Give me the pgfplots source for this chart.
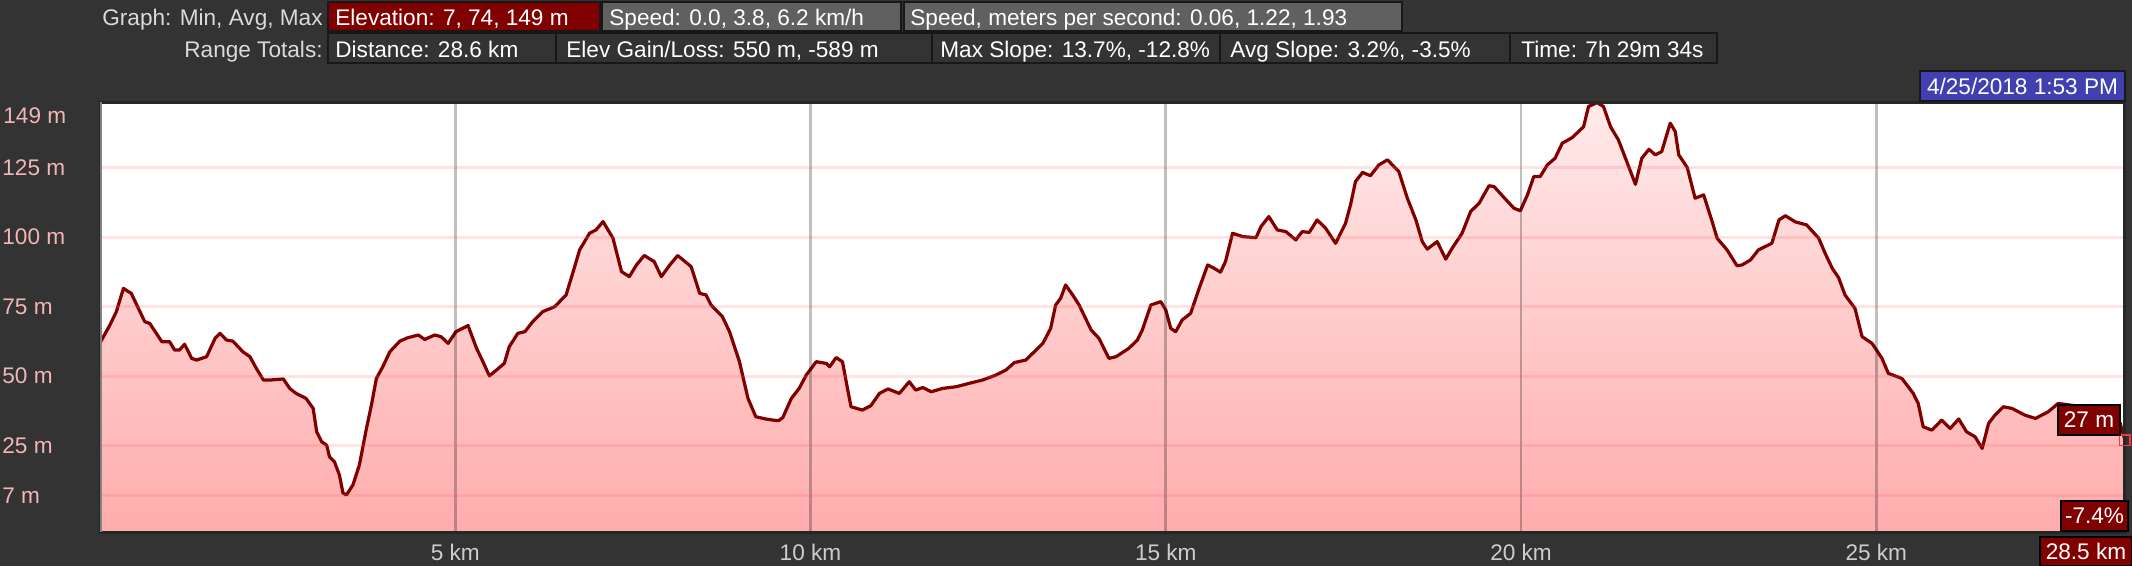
\documentclass[border=0pt]{standalone}
\usepackage{pgfplots}
\pgfplotsset{compat=1.18}
\usepackage{pgfplotstable}
\usepackage{fontspec}
\setmainfont{Liberation Sans}
\definecolor{bg}{RGB}{51,51,51}
\definecolor{darkred}{RGB}{128,0,0}
\definecolor{boxgray}{RGB}{96,96,96}
\definecolor{boxborder}{RGB}{24,24,24}
\definecolor{hdrtext}{RGB}{218,218,218}
\definecolor{ylab}{RGB}{242,182,182}
\definecolor{xlab}{RGB}{205,205,205}
\definecolor{datebox}{RGB}{64,64,176}
\definecolor{filltop}{RGB}{255,234,234}
\definecolor{fillbot}{RGB}{255,172,172}
\definecolor{ygrid}{RGB}{255,96,96}
\definecolor{axisline}{RGB}{38,38,38}
\definecolor{markred}{RGB}{240,60,60}
\newcommand\hf{\fontsize{11.3}{13}\selectfont}

\pgfplotstableread{
x y
0.00 62.0
0.14 68.4
0.23 73.2
0.33 81.6
0.40 80.4
0.44 79.8
0.54 74.4
0.63 69.6
0.70 69.0
0.87 62.4
0.98 62.4
1.05 59.4
1.12 59.4
1.19 61.5
1.29 56.4
1.36 55.8
1.50 57.0
1.62 63.6
1.69 65.4
1.78 63.0
1.87 62.6
2.01 58.8
2.11 57.0
2.20 52.8
2.30 48.6
2.39 48.6
2.58 49.0
2.67 45.6
2.76 43.8
2.90 42.0
3.00 38.4
3.05 30.0
3.12 26.4
3.19 25.2
3.23 21.0
3.30 19.2
3.37 14.4
3.42 7.9
3.47 7.3
3.56 10.9
3.65 18.0
3.75 31.2
3.82 39.6
3.89 49.2
3.98 53.4
4.08 58.8
4.22 62.6
4.33 63.8
4.48 64.8
4.57 63.2
4.71 64.8
4.80 64.2
4.90 61.8
5.01 66.0
5.18 68.2
5.30 60.0
5.39 55.2
5.48 50.1
5.58 52.2
5.69 54.6
5.76 60.6
5.88 65.4
5.98 66.0
6.09 69.6
6.23 73.2
6.40 75.0
6.56 79.2
6.66 87.6
6.75 95.4
6.89 101.4
6.98 102.6
7.08 105.6
7.22 99.6
7.34 87.6
7.45 85.8
7.55 90.0
7.66 93.4
7.80 91.2
7.90 85.8
8.02 90.0
8.13 93.4
8.32 89.4
8.44 79.8
8.53 79.2
8.60 75.6
8.76 71.4
8.86 66.0
9.00 55.2
9.12 42.0
9.23 35.4
9.37 34.6
9.47 34.2
9.55 34.0
9.61 35.1
9.73 42.0
9.84 45.6
9.94 50.4
10.08 55.2
10.22 54.6
10.27 53.4
10.36 56.7
10.45 55.2
10.52 45.6
10.57 39.0
10.73 37.8
10.85 39.4
10.97 43.8
11.09 45.4
11.25 43.8
11.39 48.0
11.48 45.0
11.58 45.9
11.70 44.4
11.86 45.6
12.05 46.2
12.23 47.4
12.42 48.6
12.61 50.4
12.75 52.2
12.87 54.9
13.03 55.8
13.15 58.8
13.27 61.8
13.38 67.2
13.45 75.6
13.52 78.0
13.59 82.8
13.69 79.2
13.78 75.6
13.95 66.6
14.06 63.6
14.20 56.4
14.30 57.0
14.48 60.0
14.60 63.0
14.67 66.6
14.79 75.6
14.93 76.8
15.00 73.8
15.07 67.2
15.14 66.0
15.23 70.2
15.35 72.6
15.47 81.6
15.59 90.0
15.68 88.8
15.77 87.4
15.84 91.2
15.94 101.4
16.08 100.2
16.27 99.8
16.34 103.8
16.45 107.4
16.57 102.6
16.69 102.0
16.83 99.0
16.92 102.0
17.02 101.7
17.13 106.2
17.25 103.2
17.39 97.8
17.53 105.0
17.60 111.6
17.67 120.0
17.77 123.3
17.88 122.1
18.00 126.0
18.12 127.8
18.28 123.6
18.40 114.0
18.52 106.2
18.61 98.4
18.68 95.7
18.82 98.4
18.94 92.1
19.03 96.0
19.17 101.4
19.29 109.2
19.41 112.2
19.55 118.5
19.62 118.2
19.78 113.7
19.90 110.4
19.99 109.5
20.09 115.2
20.18 121.8
20.27 121.8
20.37 126.0
20.48 128.4
20.58 133.8
20.72 135.8
20.81 138.0
20.88 139.7
20.95 147.0
21.07 148.4
21.16 147.0
21.26 139.7
21.37 135.0
21.47 128.4
21.61 119.0
21.70 128.4
21.80 131.6
21.89 129.6
21.98 130.8
22.10 141.0
22.17 138.0
22.22 129.6
22.34 125.0
22.45 114.0
22.57 115.2
22.69 105.6
22.76 99.6
22.90 95.4
23.04 89.7
23.11 90.0
23.23 91.8
23.34 95.4
23.53 97.8
23.63 106.2
23.72 107.7
23.86 105.5
24.02 104.4
24.19 99.6
24.28 94.2
24.38 88.8
24.47 85.4
24.56 79.2
24.70 74.4
24.80 64.2
24.94 61.8
25.08 56.4
25.17 51.0
25.36 49.2
25.52 43.8
25.59 40.2
25.66 31.8
25.78 30.6
25.92 34.2
26.04 31.2
26.16 34.6
26.27 30.0
26.39 28.2
26.49 24.0
26.58 33.0
26.67 36.0
26.79 39.0
26.91 38.4
27.09 36.0
27.24 34.8
27.42 37.2
27.56 40.2
27.90 39.0
28.20 36.0
28.43 33.2
28.50 27.0
}\elev

\begin{document}
\begin{tikzpicture}
\fill[bg] (0,0) rectangle (1066pt,283pt);
\path[use as bounding box] (0,0) rectangle (1066pt,283pt);
\begin{axis}[
  at={(50pt,16.75pt)}, anchor=south west,
  scale only axis, width=1012.5pt, height=215pt,
  xmin=0, xmax=28.5, ymin=-6.23, ymax=148.44,
  clip=false,
  axis on top,
  axis background/.style={fill=white},
  axis line style={draw=axisline, line width=1.5pt},
  major tick length=0pt,
  xtick={5,10,15,20,25},
  xticklabels={5 km,10 km,15 km,20 km,25 km},
  ytick={7,25,50,75,100,125},
  yticklabels={7 m,25 m,50 m,75 m,100 m,125 m},
  xmajorgrids, ymajorgrids,
  x grid style={draw=black, opacity=0.25, line width=1.4pt},
  y grid style={draw=ygrid, opacity=0.18, line width=1.35pt},
  tick label style={font=\hf},
  xticklabel style={anchor=base, yshift=-14.25pt, text=xlab},
  yticklabel style={anchor=west, xshift=-49pt, inner sep=0pt, text=ylab},
]
\addplot[draw=none, top color=filltop, bottom color=fillbot]
  table[x=x, y=y] {\elev} -- (rel axis cs:1,0) -- (rel axis cs:0,0) -- cycle;
\addplot[draw=darkred, line width=1.6pt, line join=round] table[x=x, y=y] {\elev};
\addplot[only marks, mark=square, mark size=2.6pt,
  mark options={draw=markred, line width=0.7pt, fill=none}] coordinates {(28.5,27)};
\end{axis}
\begin{scope}[x=0.5pt, y=-0.5pt, shift={(0pt,283pt)}]
  % left border highlight
  \draw[draw={rgb,255:red,130;green,130;blue,130}, line width=1pt] (100.5,102.5) -- (100.5,532.5);
  % 149 m label
  \node[anchor=west, inner sep=0pt, text=ylab, font=\hf] at (3,115.5) {149 m};
  % header row 1
  \node[anchor=base east, inner sep=0pt, text=hdrtext, font=\hf] at (323,26) {Graph: Min, Avg, Max};
  \draw[boxborder, fill=darkred, line width=1pt] (328,2) rectangle (600,31);
  \node[anchor=base west, inner sep=0pt, text=white, font=\hf] at (335,26) {Elevation: 7, 74, 149 m};
  \draw[boxborder, fill=boxgray, line width=1pt] (602,2) rectangle (901,31);
  \node[anchor=base west, inner sep=0pt, text=white, font=\hf] at (609,26) {Speed: 0.0, 3.8, 6.2 km/h};
  \draw[boxborder, fill=boxgray, line width=1pt] (904,2) rectangle (1402,31);
  \node[anchor=base west, inner sep=0pt, text=white, font=\hf] at (910,26) {Speed, meters per second: 0.06, 1.22, 1.93};
  % header row 2
  \node[anchor=base east, inner sep=0pt, text=hdrtext, font=\hf] at (323,57.3) {Range Totals:};
  \draw[boxborder, fill=bg, line width=1pt] (328,33) rectangle (556,63);
  \node[anchor=base west, inner sep=0pt, text=white, font=\hf] at (335,57.3) {Distance: 28.6 km};
  \draw[boxborder, fill=bg, line width=1pt] (556,33) rectangle (932,63);
  \node[anchor=base west, inner sep=0pt, text=white, font=\hf] at (566,57.3) {Elev Gain/Loss: 550 m, -589 m};
  \draw[boxborder, fill=bg, line width=1pt] (932,33) rectangle (1220,63);
  \node[anchor=base west, inner sep=0pt, text=white, font=\hf] at (940,57.3) {Max Slope: 13.7\%, -12.8\%};
  \draw[boxborder, fill=bg, line width=1pt] (1220,33) rectangle (1510,63);
  \node[anchor=base west, inner sep=0pt, text=white, font=\hf] at (1230,57.3) {Avg Slope: 3.2\%, -3.5\%};
  \draw[boxborder, fill=bg, line width=1pt] (1510,33) rectangle (1717,63);
  \node[anchor=base west, inner sep=0pt, text=white, font=\hf] at (1521,57.3) {Time: 7h 29m 34s};
  % date box
  \draw[boxborder, fill=datebox, line width=1pt] (1920,71) rectangle (2125,101);
  \node[inner sep=0pt, text=white, font=\hf] at (2022.5,86) {4/25/2018 1:53 PM};
  % value boxes
  \draw[black, fill=darkred, line width=1pt] (2058,405) rectangle (2120,435);
  \node[inner sep=0pt, text=white, font=\hf] at (2089,420) {27 m};
  \draw[black, fill=darkred, line width=1pt] (2061,501) rectangle (2128,531);
  \node[inner sep=0pt, text=white, font=\hf] at (2094.5,516) {-7.4\%};
  \draw[black, fill=darkred, line width=1pt] (2040,537) rectangle (2132,566);
  \node[inner sep=0pt, text=white, font=\hf] at (2086,551.5) {28.5 km};
\end{scope}
\end{tikzpicture}
\end{document}
